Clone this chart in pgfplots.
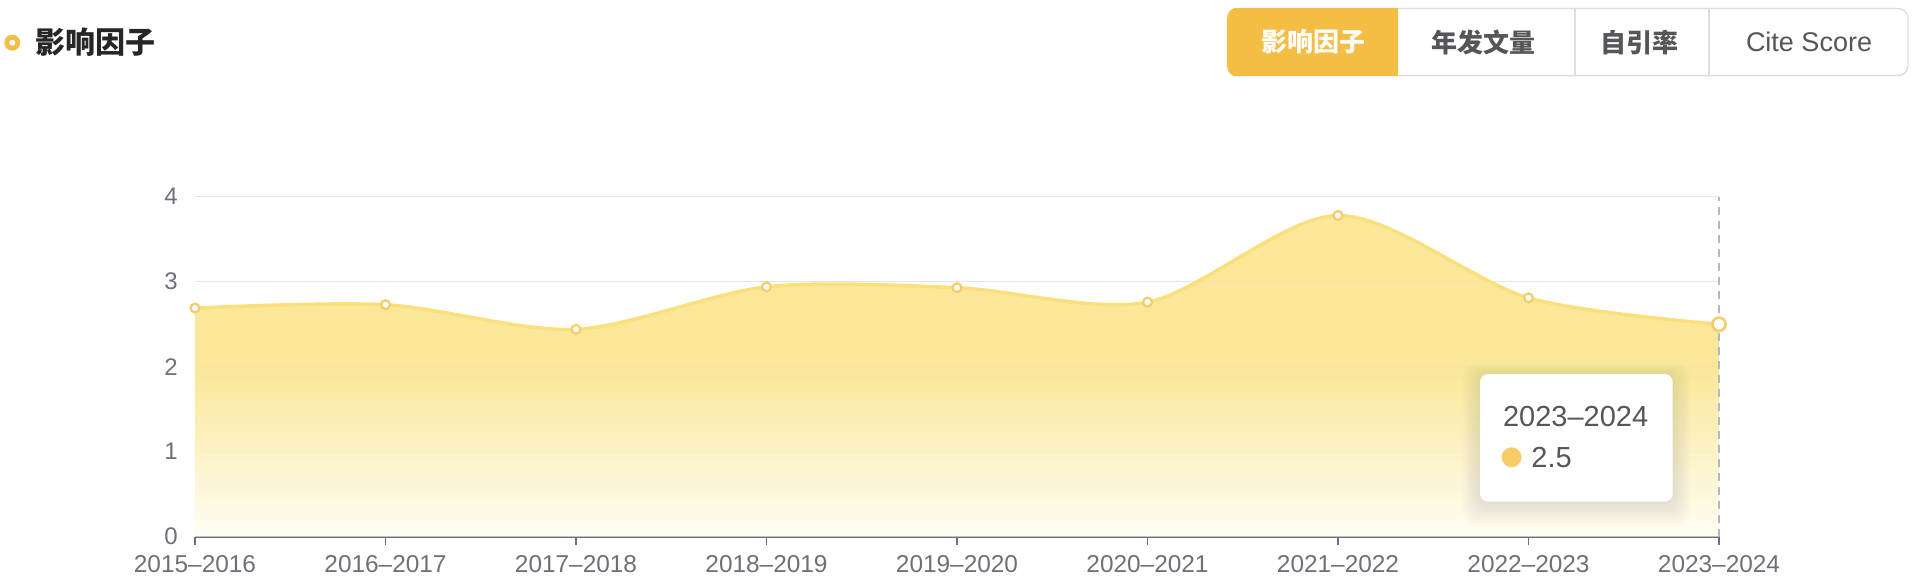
\documentclass[border=0pt]{standalone}
\usepackage{fontspec}
\setmainfont{Liberation Sans}
\newfontfamily\cjk{Noto Sans CJK SC}
\newfontfamily\dejavu{DejaVu Sans}
\usepackage{pgfplots}
\pgfplotsset{compat=1.18}

\definecolor{lineC}{RGB}{250,223,122}
\definecolor{markC}{RGB}{246,204,104}
\definecolor{fillTop}{RGB}{249,228,139}
\definecolor{fillBot}{RGB}{255,253,243}
\definecolor{gridC}{RGB}{224,230,241}
\definecolor{axisC}{RGB}{110,112,121}
\definecolor{btnC}{RGB}{244,190,69}
\definecolor{borderC}{RGB}{220,221,226}
\definecolor{dashC}{RGB}{180,183,197}
\definecolor{textC}{RGB}{85,85,90}
\definecolor{titleC}{RGB}{38,38,38}

% solid down to about half height, then fading out
\pgfdeclareverticalshading{iffill}{100bp}{color(0bp)=(fillBot); color(25bp)=(fillBot); color(51bp)=(fillTop); color(100bp)=(fillTop)}

% impact factor per year
\pgfplotstableread{
x y
0 2.69
1 2.73
2 2.44
3 2.94
4 2.93
5 2.76
6 3.78
7 2.81
8 2.50
}\ifdata

\begin{document}
\begin{tikzpicture}
\path[use as bounding box] (-97.5pt,-21.65pt) rectangle (859.5pt,268.35pt);

\begin{axis}[
  at={(0,0)}, anchor=origin,
  scale only axis,
  width=762pt, height=170pt,
  xmin=0, xmax=8, ymin=0, ymax=4,
  axis x line=bottom,
  axis y line=left,
  y axis line style={draw=none},
  x axis line style={-, draw=axisC, line width=1pt},
  xtick=data,
  xticklabels={2015–2016,2016–2017,2017–2018,2018–2019,2019–2020,2020–2021,2021–2022,2022–2023,2023–2024},
  xtick style={draw=axisC, line width=0.8pt},
  tick align=outside,
  major tick length=4pt,
  xticklabel style={font=\fontsize{12.2}{14}\selectfont, text=axisC, inner sep=0pt, anchor=north, yshift=-5.3pt},
  ytick={0,1,2,3,4},
  ytick style={draw=none},
  yticklabel style={font=\fontsize{12}{14}\selectfont, text=axisC, inner sep=0pt, anchor=east, xshift=-4.5pt},
  /pgf/number format/assume math mode=true,
  ymajorgrids,
  grid style={draw=gridC, line width=0.7pt},
  clip=false,
]
% area under the curve
\addplot[draw=none, fill opacity=0.88, shading=iffill, smooth]
  table[x=x, y=y] {\ifdata} \closedcycle;
% hover guide
\draw[dashC, line width=0.7pt, dash pattern=on 4pt off 3pt] (axis cs:8,0) -- (axis cs:8,4);
% line with hollow markers
\addplot[lineC, line width=1.7pt, smooth, mark=*, mark size=2.2pt,
  mark options={fill=white, draw=markC, line width=1.1pt}]
  table[x=x, y=y] {\ifdata};
% highlighted last point
\addplot[only marks, mark=*, mark size=3.3pt,
  mark options={fill=white, draw=markC, line width=1.3pt}]
  coordinates {(8,2.5)};
\end{axis}

% title
\fill[btnC] (-91.35pt,247pt) circle (4pt);
\fill[white] (-91.35pt,247pt) circle (1.5pt);
\node[anchor=west, inner sep=0pt, text=titleC, font=\cjk\bfseries\fontsize{15}{18}\selectfont] at (-80pt,247.5pt) {影响因子};

% tab buttons
\draw[borderC, line width=0.7pt, rounded corners=5pt] (516.5pt,230.5pt) rectangle (856.5pt,264.1pt);
\draw[borderC, line width=0.7pt] (690pt,230.5pt) -- (690pt,264.1pt);
\draw[borderC, line width=0.7pt] (757pt,230.5pt) -- (757pt,264.1pt);
\begin{scope}
  \clip[rounded corners=5pt] (516.1pt,230.1pt) rectangle (856.9pt,264.5pt);
  \fill[btnC] (516.1pt,230.1pt) rectangle (601.5pt,264.5pt);
\end{scope}
\node[text=white, font=\cjk\bfseries\fontsize{13}{15}\selectfont] at (559pt,247.3pt) {影响因子};
\node[text=textC, font=\cjk\bfseries\fontsize{13}{15}\selectfont] at (644pt,247.3pt) {年发文量};
\node[text=textC, font=\cjk\bfseries\fontsize{13}{15}\selectfont] at (722pt,247.3pt) {自引率};
\node[text=textC, font=\fontsize{13.5}{15}\selectfont] at (807pt,247.3pt) {Cite Score};

% tooltip with soft shadow
\foreach \i in {1,...,16}
  \fill[black, opacity=0.005, rounded corners=6pt]
    (642.5pt-\i*0.55pt,17.5pt-\i*0.75pt) rectangle (738.85pt+\i*0.55pt,81.35pt+\i*0.3pt);
\fill[white, rounded corners=4pt] (642.5pt,17.5pt) rectangle (738.85pt,81.35pt);
\node[anchor=west, inner sep=0pt, text=textC, font=\fontsize{14.5}{17}\selectfont] at (653.85pt,60pt) {2023–2024};
\node[anchor=west, inner sep=0pt, text=markC, font=\dejavu\fontsize{13}{15}\selectfont] at (652.5pt,39.6pt) {●};
\node[anchor=west, inner sep=0pt, text=textC, font=\fontsize{14.5}{17}\selectfont] at (668pt,39.35pt) {2.5};
\end{tikzpicture}
\end{document}
